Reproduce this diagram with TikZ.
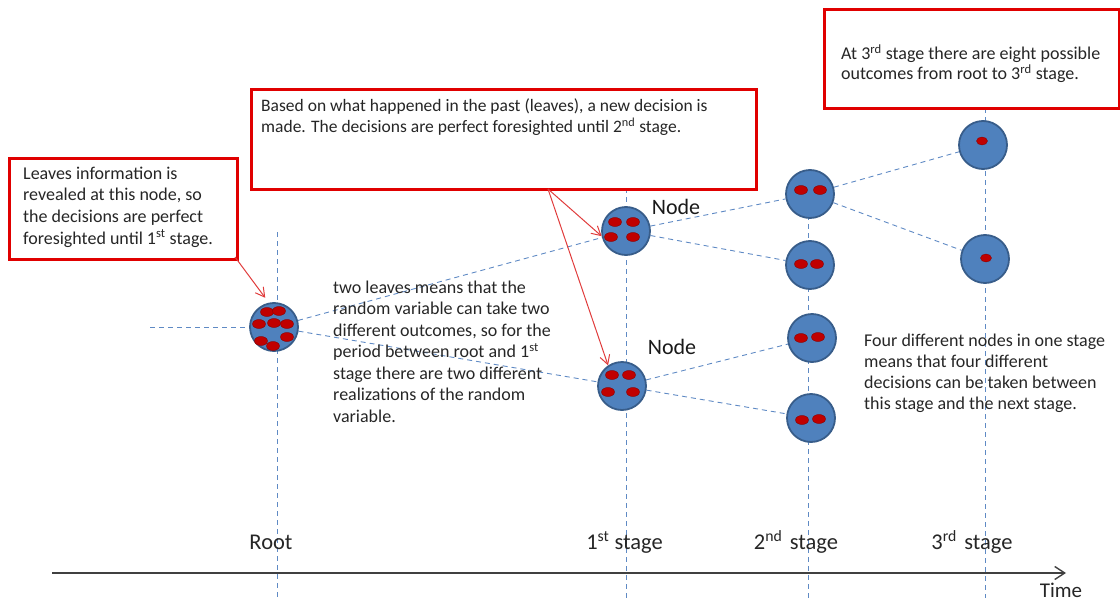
\documentclass[tikz,border=0pt]{standalone}
\usepackage{fontspec}
\setmainfont{Carlito}
\usetikzlibrary{arrows.meta}
\pgfdeclarelayer{background}
\pgfsetlayers{background,main}
\definecolor{nodeblue}{HTML}{4F81BD}
\definecolor{nodeedge}{HTML}{385D8A}
\definecolor{leafred}{HTML}{C00000}
\definecolor{leafedge}{HTML}{8B0000}
\definecolor{linkblue}{HTML}{5F8AC4}
\definecolor{boxred}{HTML}{E00000}
\definecolor{arrowred}{HTML}{E03C3C}
\definecolor{axisgray}{HTML}{404040}
\begin{document}
\begin{tikzpicture}[x=1pt,y=-1pt,
  stagenode/.style={circle,fill=nodeblue,draw=nodeedge,line width=1.8pt,minimum size=48pt,inner sep=0pt},
  leaf/.style={fill=leafred,draw=leafedge,line width=0.4pt},
  link/.style={draw=linkblue,line width=0.9pt,dash pattern=on 5pt off 4pt},
  infobox/.style={draw=boxred,line width=3pt,fill=white,inner sep=0pt,anchor=north west},
  infotext/.style={anchor=north west,inner sep=0pt,align=left,font=\fontsize{18}{21.5}\selectfont,text=black!85},
  pointer/.style={draw=arrowred,line width=1pt,-{Straight Barb[length=9pt,width=10pt]}},
  stagelabel/.style={anchor=base,inner sep=0pt,font=\fontsize{22.5}{26}\selectfont,text=black!85},
  nodelabel/.style={inner sep=0pt,font=\fontsize{22}{26}\selectfont,text=black!90}
]
\useasboundingbox (0,0) rectangle (1120,605);

% scenario tree nodes
\node[stagenode] (root) at (274,327) {};
\node[stagenode] (s1a) at (626,231) {};
\node[stagenode] (s1b) at (622,386) {};
\node[stagenode] (s2a) at (810,194) {};
\node[stagenode] (s2b) at (810,265) {};
\node[stagenode] (s2c) at (812,338) {};
\node[stagenode] (s2d) at (811,418) {};
\node[stagenode] (s3a) at (983,145) {};
\node[stagenode] (s3b) at (985,259) {};

% stage guide lines and branches, behind the nodes
\coordinate (vr0) at (277,232);  \coordinate (vr1) at (277,600);
\coordinate (v10) at (626,188);  \coordinate (v11) at (626,600);
\coordinate (v20) at (808,170);  \coordinate (v21) at (808,598);
\coordinate (v30) at (985,108);  \coordinate (v31) at (985,598);
\coordinate (hl) at (150,327);
\begin{pgfonlayer}{background}
\draw[link] (vr0) -- (vr1);
\draw[link] (v10) -- (v11);
\draw[link] (v20) -- (v21);
\draw[link] (v30) -- (v31);
\draw[link] (hl) -- (root);
\draw[link] (root) -- (s1a);
\draw[link] (root) -- (s1b);
\draw[link] (s1a) -- (s2a);
\draw[link] (s1a) -- (s2b);
\draw[link] (s1b) -- (s2c);
\draw[link] (s1b) -- (s2d);
\draw[link] (s2a) -- (s3a);
\draw[link] (s2a) -- (s3b);
\end{pgfonlayer}

% time axis
\coordinate (axL) at (52,573);
\coordinate (axR) at (1066,573);
\draw[axisgray,line width=1.4pt,-{Straight Barb[length=10pt,width=13pt]}] (axL) -- (axR);

% leaves inside nodes
\foreach \p in {(267,312),(279,311),(259,324),(274,323),(287,324),(261,341),(273,346),(287,337),
                (615,222),(633,222),(611,237),(633,237),
                (612,375),(629,375),(608,392),(633,392),
                (801,190),(820,190),(801,264),(817,264),
                (801,338),(818,337),(802,420),(819,419)}
  \draw[leaf] \p ellipse (6.5pt and 4.5pt);
\foreach \p in {(982,141),(986,258)}
  \draw[leaf] \p ellipse (5.5pt and 4pt);

\node[nodelabel] (lab1) at (676,207) {Node};
\node[nodelabel] (lab2) at (672,347) {Node};

% information boxes
\node[infobox,minimum width=228pt,minimum height=101pt] (box1) at (8,157) {};
\node[infotext,font=\fontsize{18}{21.7}\selectfont] (t1) at (23,166.5) {Leaves information is\\revealed at this node, so\\the decisions are perfect\\foresighted until 1\textsuperscript{st} stage.};
\node[infobox,minimum width=505pt,minimum height=100pt] (box2) at (250,88) {};
\node[infotext,font=\fontsize{17.5}{21}\selectfont] (t2) at (261,98.5) {Based on what happened in the past (leaves), a new decision is\\made. The decisions are perfect foresighted until 2\textsuperscript{nd} stage.};
\node[infobox,minimum width=295pt,minimum height=99pt] (box3) at (823,8) {};
\node[infotext,font=\fontsize{18}{20}\selectfont] (t3) at (841,44.5) {At 3\textsuperscript{rd} stage there are eight possible\\outcomes from root to 3\textsuperscript{rd} stage.};

\node[infotext] (t4) at (333,280.5) {two leaves means that the\\random variable can take two\\different outcomes, so for the\\period between root and 1\textsuperscript{st}\\stage there are two different\\realizations of the random\\variable.};
\node[infotext,font=\fontsize{18}{21}\selectfont] (t5) at (864,334) {Four different nodes in one stage\\means that four different\\decisions can be taken between\\this stage and the next stage.};

% pointers from the boxes
\coordinate (b1tip) at (235,257);
\coordinate (b2tip) at (548,189);
\draw[pointer,shorten >=6pt] (b1tip) -- (root.102);
\draw[pointer] (b2tip) -- (s1a.192);
\draw[pointer] (b2tip) -- (s1b.124);

% stage labels
\node[stagelabel] (lr) at (271,549) {Root};
\node[stagelabel] (l1) at (624.5,549) {1\textsuperscript{st} stage};
\node[stagelabel] (l2) at (796,549) {2\textsuperscript{nd}\,\,stage};
\node[stagelabel] (l3) at (972,549) {3\textsuperscript{rd}\,\,stage};
\node[stagelabel,font=\fontsize{21}{24}\selectfont] (lt) at (1061,597) {Time};
\end{tikzpicture}
\end{document}
